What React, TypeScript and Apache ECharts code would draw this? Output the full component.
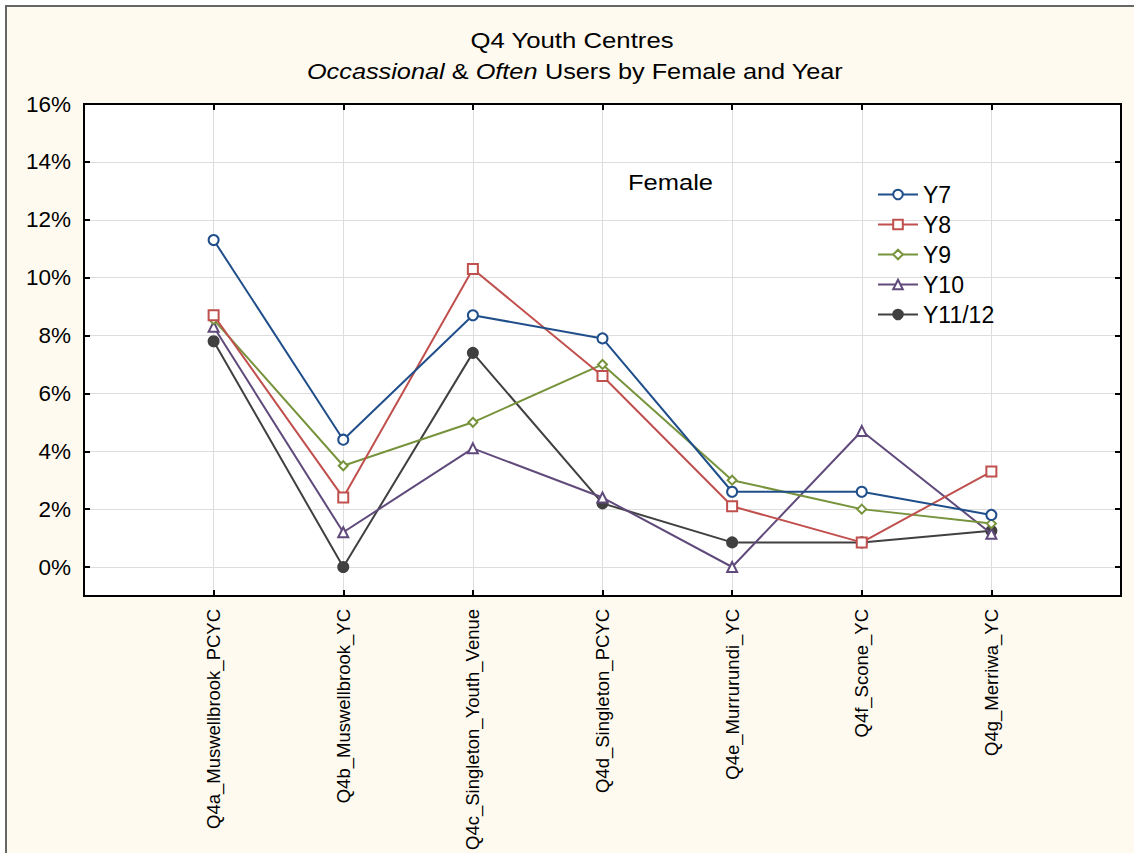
import React, { useEffect, useRef } from "react";
import * as echarts from "echarts";

const categories = [
  "Q4a_Muswellbrook_PCYC",
  "Q4b_Muswellbrook_YC",
  "Q4c_Singleton_Youth_Venue",
  "Q4d_Singleton_PCYC",
  "Q4e_Murrurundi_YC",
  "Q4f_Scone_YC",
  "Q4g_Merriwa_YC",
];

const seriesNames = ["Y7", "Y8", "Y9", "Y10", "Y11/12"];
const y7 = [11.3, 4.4, 8.7, 7.9, 2.6, 2.6, 1.8];
const y8 = [8.7, 2.4, 10.3, 6.6, 2.1, 0.85, 3.3];
const y9 = [8.55, 3.5, 5.0, 7.0, 3.0, 2.0, 1.5];
const y10 = [8.3, 1.2, 4.1, 2.4, 0.0, 4.7, 1.15];
const y11 = [7.8, 0.0, 7.4, 2.2, 0.85, 0.85, 1.25];

const yTicks = [0, 2, 4, 6, 8, 10, 12, 14, 16];

const colors = ["#1F4E8A", "#C0504D", "#77933C", "#604A7B", "#404040"];
const symbols = ["emptyCircle", "emptyRect", "emptyDiamond", "emptyTriangle", "circle"];
const symbolSizes = [10, 10, 9, 10, 10];

const FONT = "'Liberation Sans', Arial, sans-serif";

export default function App() {
  const ref = useRef<HTMLDivElement>(null);

  useEffect(() => {
    if (!ref.current) return;
    const chart = echarts.init(ref.current, null, { renderer: "svg" });
    const xData = ["", ...categories, ""];
    const allValues = [y7, y8, y9, y10, y11];

    const series = allValues.map((vals, i) => ({
      name: seriesNames[i],
      type: "line",
      xAxisIndex: 0,
      yAxisIndex: 0,
      data: [null, ...vals, null],
      symbol: symbols[i],
      symbolSize: symbolSizes[i],
      showAllSymbol: true,
      color: colors[i],
      lineStyle: { color: colors[i], width: 2 },
      itemStyle: {
        color: colors[i],
        borderColor: colors[i],
        borderWidth: 2,
      },
      emphasis: { disabled: true },
      z: 10 - i,
    }));

    const tickStyle = { show: true, inside: true, length: 6, lineStyle: { color: "#000", width: 2 } };

    chart.setOption({
      animation: false,
      backgroundColor: "#ffffff",
      textStyle: { fontFamily: FONT },
      graphic: [
        {
          type: "rect",
          z: -100,
          shape: { x: 6, y: 6, width: 1300, height: 1000 },
          style: { fill: "#FFFAEF", stroke: "#666666", lineWidth: 2 },
        },
        {
          type: "text",
          x: 572,
          y: 40,
          scaleX: 1.17,
          style: {
            text: "Q4 Youth Centres",
            font: `22px ${FONT}`,
            fill: "#000",
            textAlign: "center",
            textVerticalAlign: "middle",
          },
        },
        {
          type: "text",
          x: 575,
          y: 72,
          scaleX: 1.15,
          style: {
            text: "{i|Occassional} & {i|Often} Users by Female and Year",
            font: `22px ${FONT}`,
            fill: "#000",
            textAlign: "center",
            textVerticalAlign: "middle",
            rich: {
              i: { fontStyle: "italic", fontSize: 22, fontFamily: FONT, fill: "#000" },
            },
          },
        },
        {
          type: "text",
          x: 628,
          y: 182,
          z: 50,
          scaleX: 1.16,
          style: {
            text: "Female",
            font: `22px ${FONT}`,
            fill: "#000",
            textAlign: "left",
            textVerticalAlign: "middle",
          },
        },
      ],
      legend: {
        orient: "vertical",
        left: 872,
        top: 178,
        itemWidth: 40,
        itemHeight: 12,
        itemGap: 7,
        textStyle: { fontSize: 23, color: "#000", fontFamily: FONT },
        data: seriesNames,
      },
      grid: {
        left: 84,
        top: 104,
        right: 13,
        bottom: 256,
        show: true,
        backgroundColor: "#ffffff",
        borderColor: "#000",
        borderWidth: 2,
      },
      xAxis: [
        {
          type: "category",
          data: xData,
          boundaryGap: false,
          axisLine: { show: true, onZero: false, lineStyle: { color: "#000", width: 2 } },
          axisTick: { ...tickStyle, interval: 0 },
          axisLabel: {
            interval: 0,
            rotate: 90,
            fontSize: 18.5,
            color: "#000",
            fontFamily: FONT,
            margin: 13,
          },
          splitLine: { show: true, interval: 0, lineStyle: { color: "#DDDDDD", width: 1 } },
        },
        {
          type: "category",
          position: "top",
          data: xData,
          boundaryGap: false,
          axisLine: { show: true, onZero: false, lineStyle: { color: "#000", width: 2 } },
          axisTick: { ...tickStyle, interval: 0 },
          axisLabel: { show: false },
          splitLine: { show: false },
        },
      ],
      yAxis: [
        {
          type: "value",
          min: -1,
          max: 16,
          axisLine: { show: true, lineStyle: { color: "#000", width: 2 } },
          axisTick: { ...tickStyle, customValues: yTicks },
          axisLabel: {
            customValues: yTicks,
            formatter: (v: number) => `${v}%`,
            fontSize: 22.5,
            color: "#000",
            fontFamily: FONT,
            margin: 13,
          },
          splitLine: { show: true, lineStyle: { color: "#DDDDDD", width: 1 } },
        },
        {
          type: "value",
          position: "right",
          min: -1,
          max: 16,
          axisLine: { show: true, lineStyle: { color: "#000", width: 2 } },
          axisTick: { ...tickStyle, customValues: yTicks },
          axisLabel: { show: false, customValues: yTicks },
          splitLine: { show: false },
        },
      ],
      series,
    });

    return () => {
      chart.dispose();
    };
  }, []);

  return (
    <div
      ref={ref}
      style={{ position: "fixed", left: 0, top: 0, width: 1134, height: 853 }}
    />
  );
}
